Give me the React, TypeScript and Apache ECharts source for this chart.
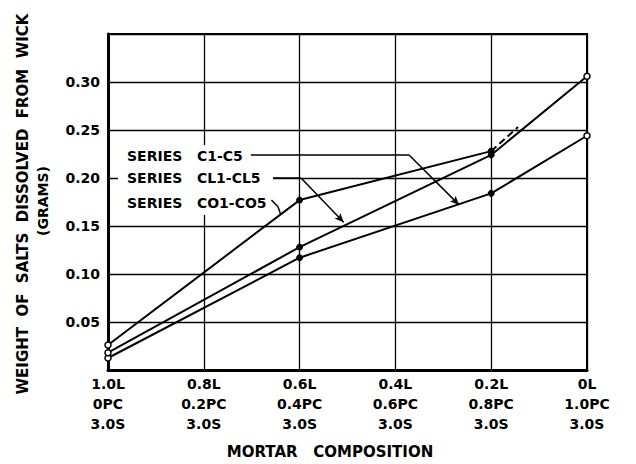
import React, { useEffect, useRef } from "react";
import * as echarts from "echarts";

// Category tick labels (three lines each)
const limeLabels = ["1.0L", "0.8L", "0.6L", "0.4L", "0.2L", "0L"];
const cementLabels = ["0PC", "0.2PC", "0.4PC", "0.6PC", "0.8PC", "1.0PC"];
const sandLabels = ["3.0S", "3.0S", "3.0S", "3.0S", "3.0S", "3.0S"];
const yTickLabels = ["0.05", "0.10", "0.15", "0.20", "0.25", "0.30"];

// Series values (x = category index, y = grams)
const seriesCX = [0, 2, 4, 5];
const seriesCY = [0.0125, 0.117, 0.184, 0.244];
const seriesCLX = [0, 2, 4, 5];
const seriesCLY = [0.018, 0.128, 0.224, 0.306];
const seriesCOX = [0, 2, 4];
const seriesCOY = [0.026, 0.177, 0.228];
const seriesCOExtX = [4, 4.28];
const seriesCOExtY = [0.228, 0.253];

const seriesLabels = ["SERIES   C1-C5", "SERIES   CL1-CL5", "SERIES   CO1-CO5"];
const yTitle = "WEIGHT  OF  SALTS  DISSOLVED  FROM  WICK";
const yUnit = "(GRAMS)";
const xTitle = "MORTAR   COMPOSITION";

const FONT = "DejaVu Sans";

function pts(xs: number[], ys: number[]) {
  return xs.map((x, i) => {
    const open = x === 0 || x === 5;
    return {
      value: [x, ys[i]],
      itemStyle: open
        ? { color: "#fff", borderColor: "#000", borderWidth: 1.5 }
        : { color: "#000", borderColor: "#000", borderWidth: 1 },
    };
  });
}

function lineSeries(name: string, xs: number[], ys: number[]) {
  return {
    name,
    type: "line",
    data: pts(xs, ys),
    symbol: "circle",
    symbolSize: 6,
    clip: false,
    z: 5,
    lineStyle: { color: "#000", width: 2 },
  };
}

export default function App() {
  const ref = useRef<HTMLDivElement>(null);
  useEffect(() => {
    if (!ref.current) return;
    const chart = echarts.init(ref.current, null, { renderer: "svg" });
    const seg = (a: number[], b: number[], arrow = false) => [
      { coord: a, symbol: "none" },
      { coord: b, symbol: arrow ? "arrow" : "none", symbolSize: [6, 9] },
    ];
    chart.setOption({
      animation: false,
      backgroundColor: "#fff",
      textStyle: { fontFamily: FONT },
      grid: {
        left: 108,
        right: 49,
        top: 34,
        bottom: 94,
        show: true,
        borderColor: "#000",
        borderWidth: 2,
      },
      xAxis: {
        type: "value",
        min: 0,
        max: 5,
        interval: 1,
        axisLine: { show: true, lineStyle: { color: "#000", width: 3 } },
        axisTick: { show: false },
        splitLine: { show: true, lineStyle: { color: "#000", width: 1.3 } },
        axisLabel: {
          margin: 4,
          color: "#000",
          fontFamily: FONT,
          fontWeight: "bold",
          fontSize: 14,
          lineHeight: 20,
          formatter: (v: number) => {
            const i = Math.round(v);
            return `${limeLabels[i]}\n${cementLabels[i]}\n${sandLabels[i]}`;
          },
        },
      },
      yAxis: {
        type: "value",
        min: 0,
        max: 0.35,
        interval: 0.05,
        axisLine: { show: true, lineStyle: { color: "#000", width: 3 } },
        axisTick: { show: false },
        splitLine: { show: true, lineStyle: { color: "#000", width: 1.3 } },
        axisLabel: {
          margin: 8,
          color: "#000",
          fontFamily: FONT,
          fontWeight: "bold",
          fontSize: 14,
          formatter: (v: number) => {
            const i = Math.round(v / 0.05);
            return i >= 1 && i <= yTickLabels.length ? yTickLabels[i - 1] : "";
          },
        },
      },
      graphic: [
        {
          type: "rect",
          z: 1,
          shape: { x: 118, y: 145, width: 155, height: 70 },
          style: { fill: "#fff" },
        },
        {
          type: "text",
          z: 3,
          x: 127,
          y: 156,
          style: { text: seriesLabels[0], font: `bold 14px "${FONT}"`, fill: "#000", verticalAlign: "middle" },
        },
        {
          type: "text",
          z: 3,
          x: 127,
          y: 178,
          style: { text: seriesLabels[1], font: `bold 14px "${FONT}"`, fill: "#000", verticalAlign: "middle" },
        },
        {
          type: "text",
          z: 3,
          x: 127,
          y: 203,
          style: { text: seriesLabels[2], font: `bold 14px "${FONT}"`, fill: "#000", verticalAlign: "middle" },
        },
        {
          type: "text",
          z: 3,
          x: 23,
          y: 204,
          rotation: Math.PI / 2,
          style: { text: yTitle, font: `bold 15px "${FONT}"`, fill: "#000", align: "center", verticalAlign: "middle" },
        },
        {
          type: "text",
          z: 3,
          x: 43,
          y: 201,
          rotation: Math.PI / 2,
          style: { text: yUnit, font: `bold 14px "${FONT}"`, fill: "#000", align: "center", verticalAlign: "middle" },
        },
        {
          type: "text",
          z: 3,
          x: 330,
          y: 452,
          style: { text: xTitle, font: `bold 15px "${FONT}"`, fill: "#000", align: "center", verticalAlign: "middle" },
        },
      ],
      series: [
        lineSeries(seriesLabels[0], seriesCX, seriesCY),
        lineSeries(seriesLabels[1], seriesCLX, seriesCLY),
        lineSeries(seriesLabels[2], seriesCOX, seriesCOY),
        {
          name: "extension",
          type: "line",
          data: seriesCOExtX.map((x, i) => [x, seriesCOExtY[i]]),
          symbol: "none",
          clip: false,
          z: 4,
          lineStyle: { color: "#000", width: 2, type: [7, 4] },
          markLine: {
            silent: true,
            symbol: ["none", "none"],
            label: { show: false },
            lineStyle: { color: "#000", width: 1.5, type: "solid" },
            data: [
              seg([1.492, 0.2240], [3.142, 0.2240]),
              seg([3.142, 0.2240], [3.665, 0.1720], true),
              seg([1.722, 0.2000], [2.015, 0.2000]),
              seg([2.015, 0.2000], [2.46, 0.1540], true),
              seg([1.706, 0.1770], [1.775, 0.1700]),
              seg([1.775, 0.1700], [1.8, 0.1625]),
            ],
          },
        },
      ],
    });
    return () => chart.dispose();
  }, []);
  return (
    <div
      ref={ref}
      style={{ position: "fixed", left: 0, top: 0, width: 636, height: 464, background: "#fff" }}
    />
  );
}
